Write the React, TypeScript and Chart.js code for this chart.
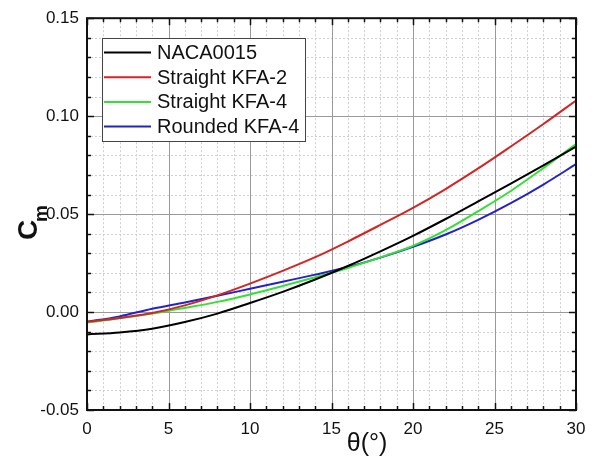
import React, { useEffect, useRef } from "react";
import { Chart, registerables } from "chart.js";

Chart.register(...registerables);

const THETA = [0, 2, 4, 6, 8, 10, 12, 14, 16, 18, 20, 22, 24, 26, 28, 30];
const NACA0015 = [-0.0114, -0.0104, -0.0085, -0.0051, -0.0008, 0.0046, 0.0103, 0.0166, 0.0235, 0.031, 0.0389, 0.0475, 0.0565, 0.0656, 0.0749, 0.0845];
const STRAIGHT_KFA2 = [-0.005, -0.003, -0.0005, 0.0034, 0.0085, 0.0145, 0.021, 0.028, 0.036, 0.0445, 0.0532, 0.0628, 0.0733, 0.0845, 0.096, 0.108];
const STRAIGHT_KFA4 = [-0.0054, -0.0032, -0.0008, 0.0021, 0.0052, 0.009, 0.0133, 0.0178, 0.0225, 0.0279, 0.0338, 0.0418, 0.0515, 0.0618, 0.0735, 0.0857];
const ROUNDED_KFA4 = [-0.005, -0.0022, 0.0017, 0.0049, 0.0083, 0.0119, 0.0155, 0.0191, 0.023, 0.0278, 0.0333, 0.0396, 0.0471, 0.0556, 0.0651, 0.0755];

const SERIES_NAMES = ["NACA0015", "Straight KFA-2", "Straight KFA-4", "Rounded KFA-4"];
const SERIES_VALUES = [NACA0015, STRAIGHT_KFA2, STRAIGHT_KFA4, ROUNDED_KFA4];
const SERIES_COLORS = ["#000000", "#d42424", "#33e033", "#2323c8"];

const X_MIN = 0, X_MAX = 30, X_MAJOR = 5, X_MINOR = 1;
const Y_MIN = -0.05, Y_MAX = 0.15, Y_MAJOR = 0.05, Y_MINOR = 0.01;
const X_TITLE = "θ(°)";
const Y_TITLE_MAIN = "C";
const Y_TITLE_SUB = "m";

const FONT = "'Liberation Sans', Arial, sans-serif";

function range(min: number, max: number, step: number): number[] {
  const out: number[] = [];
  const n = Math.round((max - min) / step);
  for (let i = 0; i <= n; i++) out.push(+(min + i * step).toFixed(6));
  return out;
}

const framePlugin = {
  id: "frame",
  beforeDatasetsDraw(chart: any) {
    const { ctx, chartArea: a, scales } = chart;
    const xs = scales.x, ys = scales.y;
    ctx.save();
    // minor grid
    ctx.strokeStyle = "#cfcfcf";
    ctx.lineWidth = 1;
    ctx.setLineDash([2, 2]);
    for (const v of range(X_MIN, X_MAX, X_MINOR)) {
      if (Math.abs(v / X_MAJOR - Math.round(v / X_MAJOR)) < 1e-6) continue;
      const px = Math.round(xs.getPixelForValue(v)) + 0.5;
      ctx.beginPath(); ctx.moveTo(px, a.top); ctx.lineTo(px, a.bottom); ctx.stroke();
    }
    for (const v of range(Y_MIN, Y_MAX, Y_MINOR)) {
      if (Math.abs(v / Y_MAJOR - Math.round(v / Y_MAJOR)) < 1e-6) continue;
      const py = Math.round(ys.getPixelForValue(v)) + 0.5;
      ctx.beginPath(); ctx.moveTo(a.left, py); ctx.lineTo(a.right, py); ctx.stroke();
    }
    // major grid
    ctx.setLineDash([]);
    ctx.strokeStyle = "#9a9a9a";
    for (const v of range(X_MIN, X_MAX, X_MAJOR)) {
      const px = Math.round(xs.getPixelForValue(v)) + 0.5;
      ctx.beginPath(); ctx.moveTo(px, a.top); ctx.lineTo(px, a.bottom); ctx.stroke();
    }
    for (const v of range(Y_MIN, Y_MAX, Y_MAJOR)) {
      const py = Math.round(ys.getPixelForValue(v)) + 0.5;
      ctx.beginPath(); ctx.moveTo(a.left, py); ctx.lineTo(a.right, py); ctx.stroke();
    }
    ctx.restore();
  },
  afterDatasetsDraw(chart: any) {
    const { ctx, chartArea: a, scales } = chart;
    const xs = scales.x, ys = scales.y;
    ctx.save();
    // ticks (inward on all sides)
    ctx.strokeStyle = "#111";
    ctx.lineWidth = 1.5;
    for (const v of range(X_MIN, X_MAX, X_MINOR)) {
      const major = Math.abs(v / X_MAJOR - Math.round(v / X_MAJOR)) < 1e-6;
      const len = major ? 7 : 4;
      const px = Math.round(xs.getPixelForValue(v)) + 0.5;
      ctx.beginPath(); ctx.moveTo(px, a.bottom); ctx.lineTo(px, a.bottom - len); ctx.stroke();
      ctx.beginPath(); ctx.moveTo(px, a.top); ctx.lineTo(px, a.top + len); ctx.stroke();
    }
    for (const v of range(Y_MIN, Y_MAX, Y_MINOR)) {
      const major = Math.abs(v / Y_MAJOR - Math.round(v / Y_MAJOR)) < 1e-6;
      const len = major ? 7 : 4;
      const py = Math.round(ys.getPixelForValue(v)) + 0.5;
      ctx.beginPath(); ctx.moveTo(a.left, py); ctx.lineTo(a.left + len, py); ctx.stroke();
      ctx.beginPath(); ctx.moveTo(a.right, py); ctx.lineTo(a.right - len, py); ctx.stroke();
    }
    // frame
    ctx.lineWidth = 2;
    ctx.strokeStyle = "#111";
    ctx.strokeRect(a.left, a.top, a.right - a.left, a.bottom - a.top);

    // legend
    const lx = 102, ly = 38, lw = 203, lh = 103;
    ctx.fillStyle = "#ffffff";
    ctx.fillRect(lx, ly, lw, lh);
    ctx.lineWidth = 1;
    ctx.strokeStyle = "#444";
    ctx.strokeRect(lx + 0.5, ly + 0.5, lw, lh);
    ctx.font = `20px ${FONT}`;
    ctx.textBaseline = "middle";
    ctx.textAlign = "left";
    SERIES_NAMES.forEach((name, i) => {
      const y = 52.5 + i * 24.7;
      ctx.strokeStyle = SERIES_COLORS[i];
      ctx.lineWidth = 2;
      ctx.beginPath(); ctx.moveTo(104, y); ctx.lineTo(151, y); ctx.stroke();
      ctx.fillStyle = "#111";
      ctx.fillText(name, 157, y + 1);
    });

    // x title
    ctx.font = `25px ${FONT}`;
    ctx.textAlign = "center";
    ctx.textBaseline = "alphabetic";
    ctx.fillStyle = "#111";
    ctx.fillText(X_TITLE, 367, 451);

    // y title (rotated)
    ctx.translate(37, 240);
    ctx.rotate(-Math.PI / 2);
    ctx.textAlign = "left";
    ctx.font = `bold 28px ${FONT}`;
    ctx.fillText(Y_TITLE_MAIN, 0, 0);
    ctx.font = `bold 19px ${FONT}`;
    ctx.fillText(Y_TITLE_SUB, 18, 10);
    ctx.restore();
  },
};

export default function App() {
  const ref = useRef<HTMLCanvasElement | null>(null);
  useEffect(() => {
    if (!ref.current) return;
    const chart = new Chart(ref.current, {
      type: "line",
      data: {
        datasets: SERIES_NAMES.map((name, i) => ({
          label: name,
          data: THETA.map((t, j) => ({ x: t, y: SERIES_VALUES[i][j] })),
          borderColor: SERIES_COLORS[i],
          backgroundColor: SERIES_COLORS[i],
          borderWidth: 2,
          pointRadius: 0,
          fill: false,
          cubicInterpolationMode: "monotone" as const,
        })),
      },
      options: {
        animation: false,
        responsive: false,
        events: [],
        layout: { padding: { left: 0, right: 19, top: 17, bottom: 0 } },
        plugins: { legend: { display: false }, tooltip: { enabled: false } },
        scales: {
          x: {
            type: "linear",
            min: X_MIN,
            max: X_MAX,
            ticks: { stepSize: X_MAJOR, font: { family: FONT, size: 17 }, color: "#111", padding: 9, maxRotation: 0 },
            grid: { display: false, drawTicks: false },
            border: { display: false },
            afterFit: (s: any) => { s.height = 50; },
          },
          y: {
            type: "linear",
            min: Y_MIN,
            max: Y_MAX,
            ticks: {
              stepSize: Y_MAJOR,
              font: { family: FONT, size: 17 },
              color: "#111",
              padding: 8,
              callback: (v: any) => Number(v).toFixed(2),
            },
            grid: { display: false, drawTicks: false },
            border: { display: false },
            afterFit: (s: any) => { s.width = 87; },
          },
        },
      },
      plugins: [framePlugin],
    });
    return () => chart.destroy();
  }, []);
  return (
    <div style={{ position: "absolute", left: 0, top: 0, width: 595, height: 460, background: "#fff" }}>
      <canvas ref={ref} width={595} height={460} />
    </div>
  );
}
